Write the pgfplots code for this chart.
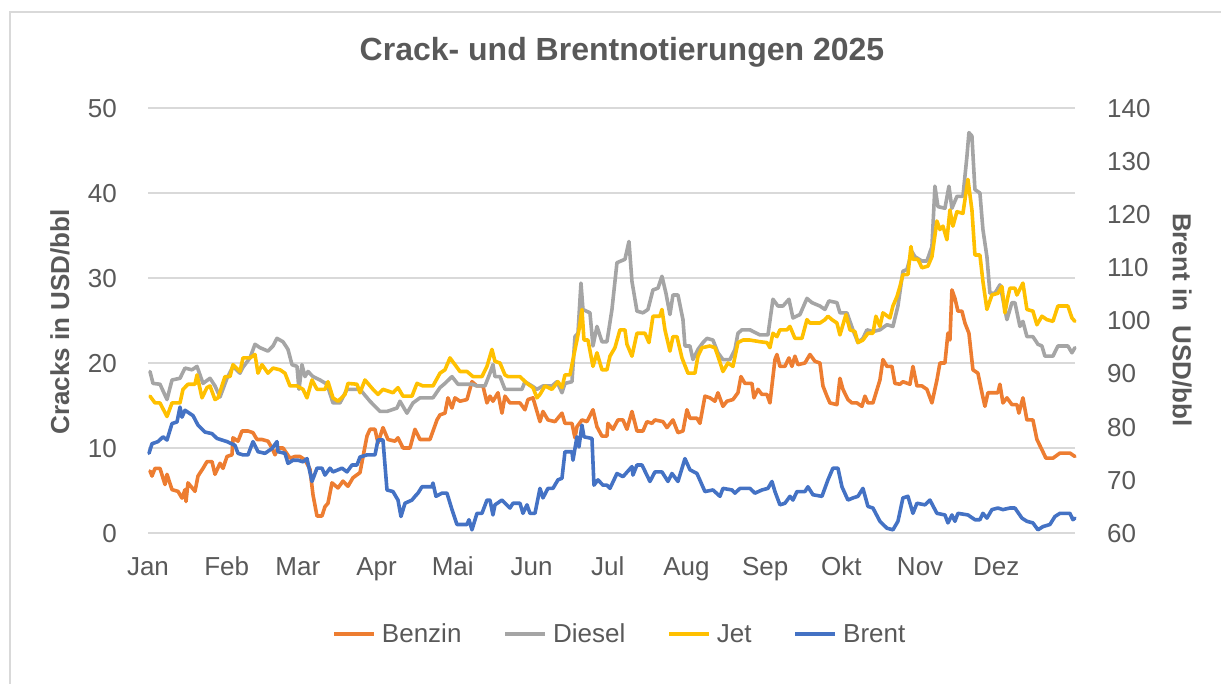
\documentclass[border=0pt]{standalone}
\usepackage{pgfplots}
\pgfplotsset{compat=1.18}
\usepackage{pgfplotstable}
\usepackage{fontspec}
\setmainfont{Liberation Sans}
\definecolor{cBenzin}{HTML}{ED7D31}
\definecolor{cDiesel}{HTML}{A5A5A5}
\definecolor{cJet}{HTML}{FFC000}
\definecolor{cBrent}{HTML}{4472C4}
\definecolor{cGrid}{HTML}{D9D9D9}
\definecolor{cText}{HTML}{595959}

% px = horizontal position (Jan 1 = 148, Dec 31 = 1075)
\pgfplotstableread{
px v
150 7.3
152 6.7
155 7.6
160 7.6
165 5.7
167 6.9
172 5.1
178 4.9
182 4.1
185 5.1
186 3.7
188 5.9
195 4.9
198 6.7
203 7.6
207 8.4
212 8.4
215 6.9
220 8.2
223 7.6
227 9.0
232 9.2
233 11.2
238 10.8
242 12.0
248 12.0
253 11.8
257 11.0
262 11.0
268 10.8
272 10.0
275 9.2
278 10.0
283 10.0
290 8.8
295 9.0
300 9.0
305 8.6
310 7.5
313 4.5
317 2.0
322 2.0
325 3.1
328 3.5
332 5.9
338 5.3
343 6.1
348 5.5
353 6.5
360 7.1
367 11.4
370 12.2
375 12.2
378 10.6
383 12.4
388 11.0
395 10.8
398 11.2
403 10.0
410 10.0
415 12.2
420 11.0
430 11.0
437 13.3
440 13.9
445 14.1
448 15.9
452 14.7
455 15.9
460 15.5
467 15.7
472 17.8
477 17.3
483 17.3
487 15.3
490 16.1
493 15.5
498 16.5
502 14.1
505 16.1
510 15.3
520 15.3
525 14.5
528 15.7
533 15.9
537 14.3
540 13.1
543 14.3
548 13.3
555 13.1
562 14.1
565 12.9
572 12.9
575 11.2
577 12.5
582 13.3
587 13.1
593 14.5
597 12.5
602 11.4
607 11.4
608 12.9
613 12.2
618 13.3
623 13.3
627 12.2
632 14.3
637 12.0
643 12.0
647 13.1
652 12.9
655 13.3
663 13.1
667 12.4
673 13.3
678 11.8
683 12.0
687 14.5
690 13.5
697 13.5
700 12.9
705 16.1
710 15.9
715 15.5
718 16.5
723 14.9
727 15.5
733 15.7
738 16.5
741 18.4
745 17.6
752 17.6
754 15.9
758 16.9
762 16.3
767 16.3
770 15.3
775 20.4
777 21.0
780 19.6
785 19.6
789 20.6
792 19.6
795 20.8
798 19.8
805 20.0
810 21.0
815 20.2
820 20.0
823 17.3
827 16.1
830 15.3
837 15.1
840 18.2
843 16.9
848 15.7
852 15.3
857 15.3
862 14.9
865 16.1
868 15.3
873 15.3
880 18.0
883 20.4
887 19.6
892 19.6
895 17.6
900 17.5
903 17.8
910 17.5
913 19.6
917 17.3
922 17.3
927 16.9
932 15.3
937 18.0
940 20.0
945 20.0
948 23.5
950 22.7
952 28.6
955 27.6
958 26.1
962 26.1
965 24.7
969 23.5
973 19.2
978 18.8
982 16.5
985 14.9
988 16.5
993 16.5
998 16.5
1000 17.5
1003 15.3
1007 15.9
1012 15.1
1017 15.1
1019 14.1
1023 15.9
1027 13.3
1033 13.3
1037 11.0
1042 9.8
1046 8.8
1053 8.8
1060 9.4
1070 9.4
1075 9.0
}\benzin

\pgfplotstableread{
px v
150 19.0
153 17.6
160 17.5
167 15.7
172 18.0
180 18.2
185 19.4
192 19.2
197 19.6
203 17.6
210 18.2
215 17.3
220 16.0
227 18.2
233 19.6
240 18.8
243 19.5
250 20.6
255 22.2
260 21.8
268 21.4
273 22.0
277 22.9
283 22.5
288 21.6
292 19.8
297 19.6
299 16.9
302 19.8
305 18.4
308 19.0
313 18.4
320 18.0
327 17.5
333 15.3
340 15.3
347 16.9
360 16.9
370 15.5
380 14.3
387 14.3
397 14.7
400 15.5
407 14.1
413 15.3
420 15.9
433 15.9
440 17.1
445 17.6
452 18.4
458 17.5
472 17.5
477 17.3
485 17.3
490 18.8
493 19.8
495 18.4
500 18.4
505 16.9
512 16.9
522 16.9
525 17.8
532 17.3
537 16.9
543 17.3
552 17.3
557 17.8
562 16.5
565 17.6
572 17.8
575 23.1
578 23.5
581 29.4
583 26.3
590 25.9
593 22.0
597 24.3
602 22.5
607 22.5
612 26.3
617 31.8
625 32.2
629 34.3
632 29.6
637 26.1
643 25.9
648 26.3
653 28.6
658 28.8
662 30.2
666 28.2
670 25.7
673 28.0
678 28.0
683 25.1
685 22.0
690 22.0
693 20.4
698 21.6
703 22.4
707 22.9
713 22.7
718 21.2
723 20.4
730 20.4
735 21.6
738 23.5
742 23.9
750 23.9
760 23.3
768 23.3
773 27.5
778 26.7
783 26.7
789 27.5
793 25.3
800 25.7
807 27.6
812 27.1
820 26.7
825 26.3
829 27.3
837 27.1
840 25.9
847 25.9
853 23.9
858 22.4
863 22.9
867 23.9
873 23.7
880 23.9
887 24.5
893 24.3
898 26.7
903 30.8
907 31.0
912 33.1
915 32.5
922 32.0
927 32.0
932 33.7
935 40.8
938 38.4
945 38.2
949 40.8
952 38.2
957 39.6
963 39.6
967 44.3
969 47.1
972 46.7
975 40.4
980 40.0
983 35.7
987 32.5
990 28.2
995 28.2
1000 29.2
1003 27.5
1007 25.1
1012 27.1
1015 27.1
1020 24.3
1023 24.9
1027 23.1
1033 23.1
1038 22.2
1042 22.0
1045 20.8
1053 20.8
1058 22.0
1068 22.0
1072 21.2
1075 21.8
}\diesel

\pgfplotstableread{
px v
150 16.1
155 15.3
160 15.3
167 13.7
172 15.3
180 15.3
183 16.9
188 17.5
195 17.5
197 18.6
202 15.9
207 17.1
210 17.3
215 15.7
218 15.9
225 18.4
230 18.4
233 19.8
240 19.0
243 20.6
250 20.6
255 21.0
258 18.8
262 19.8
268 18.8
273 19.4
280 19.2
285 18.8
290 17.3
297 17.3
303 16.9
307 15.9
312 18.0
317 16.9
325 16.9
328 17.8
333 15.9
338 15.5
345 16.3
348 17.6
357 17.5
360 16.5
365 18.0
373 16.9
378 16.3
383 16.9
393 16.5
398 17.1
403 16.1
412 16.1
417 17.6
423 17.3
433 17.3
440 18.8
445 19.2
450 20.6
455 19.8
460 19.0
467 19.0
473 18.4
482 18.4
487 19.6
492 21.6
495 20.2
500 20.0
505 18.6
508 18.4
520 18.4
527 17.6
533 17.1
537 15.9
540 16.3
545 17.3
552 16.9
558 17.8
562 17.1
565 18.6
570 18.6
573 20.4
577 22.7
579 23.9
582 26.3
584 22.7
588 22.7
593 19.6
597 21.2
602 19.2
607 19.2
610 20.8
615 21.8
620 23.9
625 23.9
627 22.2
632 20.8
637 23.5
645 23.5
649 22.4
653 25.5
660 25.5
662 26.3
665 23.9
670 21.4
673 23.1
677 23.1
682 20.6
688 18.8
695 18.8
698 20.8
702 21.8
710 22.0
715 21.8
718 20.8
723 19.0
728 20.0
733 19.6
738 22.4
743 22.7
750 22.7
760 22.5
767 22.4
770 21.8
773 23.5
777 23.1
780 23.9
787 23.9
790 24.3
795 22.9
802 22.9
807 25.1
810 24.7
820 24.7
825 25.1
828 25.5
832 25.1
837 24.7
840 23.3
846 25.7
850 23.9
855 23.7
858 22.4
863 22.7
868 23.5
873 23.5
876 25.5
880 24.3
883 25.9
890 25.3
893 26.7
897 27.8
900 29.0
903 30.4
908 30.4
911 33.7
913 32.2
918 32.2
922 31.2
928 31.4
932 32.5
937 36.7
940 35.7
943 36.1
947 34.5
950 38.0
953 36.1
957 37.8
963 37.6
968 41.6
972 38.0
975 32.7
980 32.7
983 29.6
987 26.3
992 28.0
998 28.2
1002 29.0
1005 25.9
1008 27.8
1010 28.8
1015 28.8
1017 28.0
1023 29.4
1027 26.3
1033 26.1
1037 24.5
1042 25.5
1047 25.1
1053 24.9
1058 26.7
1068 26.7
1072 25.3
1075 24.9
}\jet

\pgfplotstableread{
px v
149 75.0
152 76.8
158 77.2
163 78.1
167 77.5
172 80.6
177 80.9
180 83.7
182 81.8
185 83.1
193 82.1
198 80.3
205 79.0
212 78.7
217 77.8
227 77.2
235 76.5
238 75.0
243 74.7
248 74.7
253 77.2
258 75.3
265 75.0
272 75.9
277 77.2
278 75.3
285 75.0
288 73.1
293 73.7
298 73.7
303 73.4
307 74.0
312 69.7
317 72.2
322 72.2
325 70.9
330 72.2
333 71.5
342 72.2
347 71.5
352 72.8
357 72.8
360 74.3
367 74.7
375 74.7
378 77.5
383 77.5
387 68.1
393 67.8
398 66.2
401 63.1
405 65.6
412 66.2
415 66.9
418 67.5
422 68.7
432 68.7
433 69.4
436 66.9
442 67.5
447 67.5
452 64.4
457 61.6
467 61.6
469 62.5
472 60.6
477 63.7
482 63.7
487 66.2
490 66.2
493 63.4
495 65.3
502 66.2
510 64.7
513 65.6
520 65.6
523 63.7
527 65.3
530 63.7
535 63.7
540 68.4
543 66.6
548 68.4
553 68.4
558 70.0
562 70.3
565 75.3
572 75.3
573 73.7
577 78.1
579 76.2
582 80.3
584 78.1
592 77.8
594 69.0
598 70.0
603 69.0
607 69.0
610 68.4
617 71.2
623 70.6
632 72.5
633 70.9
637 72.8
642 72.8
650 69.7
655 71.5
662 71.5
668 69.7
672 71.2
678 69.7
685 74.0
690 71.9
697 71.2
705 67.8
713 68.1
720 66.9
723 68.4
732 68.1
735 67.5
740 68.4
750 68.4
755 67.5
762 68.1
768 68.4
772 69.7
775 67.8
780 65.3
785 65.6
790 66.9
793 66.2
797 67.8
805 67.8
808 68.7
813 67.2
822 66.9
828 70.0
833 72.2
838 72.2
842 68.7
848 66.2
853 66.6
858 66.9
863 68.4
868 65.0
873 64.7
880 62.2
887 60.9
893 60.6
898 62.2
903 66.6
908 66.9
913 63.7
917 65.6
925 65.3
930 66.2
937 63.7
945 63.4
948 61.9
952 63.4
955 62.2
958 63.7
968 63.4
975 62.5
980 62.5
983 63.7
987 62.8
992 64.4
998 64.7
1003 64.4
1010 64.7
1015 64.7
1022 62.8
1027 62.2
1033 61.9
1038 60.6
1043 61.2
1050 61.6
1055 63.1
1060 63.7
1070 63.7
1073 62.5
1075 62.8
}\brent

\pgfplotsset{
  chartbase/.style={
    at={(148bp,151bp)}, anchor=south west,
    scale only axis, width=927bp, height=425bp,
    xmin=0, xmax=365, clip=false,
    axis line style={draw=none}, major tick style={draw=none},
    ticklabel style={font=\fontsize{26bp}{30bp}\selectfont, text=cText},
    /pgf/number format/assume math mode=true,
  },
  serie/.style={line width=3.6bp, line join=round, line cap=round},
}

\begin{document}
\begin{tikzpicture}[x=1bp,y=1bp]
\useasboundingbox (0,0) rectangle (1221,684);
\draw[cGrid, line width=2bp] (10,-5) -- (10,672) -- (1230,672);
\node[font=\bfseries\fontsize{32bp}{38bp}\selectfont, text=cText, anchor=base] at (622,623) {Crack- und Brentnotierungen 2025};
\node[rotate=90, font=\bfseries\fontsize{26bp}{30bp}\selectfont, text=cText] at (60,362) {Cracks in USD/bbl};
\node[rotate=-90, font=\bfseries\fontsize{26bp}{30bp}\selectfont, text=cText] at (1182,364) {Brent in\ \ USD/bbl};

\begin{axis}[chartbase,
  ymin=0, ymax=50, ytick={0,10,...,50},
  ymajorgrids, grid style={cGrid, line width=1.5bp},
  xtick={0,31,59,90,120,151,181,212,243,273,304,334},
  xticklabels={Jan,Feb,Mar,Apr,Mai,Jun,Jul,Aug,Sep,Okt,Nov,Dez},
  yticklabel style={anchor=base east, inner sep=0pt, xshift=-31bp, yshift=-9.3bp},
  xticklabel style={anchor=base, inner sep=0pt, yshift=-43bp},
]
\addplot[serie, cBenzin] table[x expr={(\thisrow{px}-148)/2.54}, y=v] {\benzin};
\addplot[serie, cDiesel] table[x expr={(\thisrow{px}-148)/2.54}, y=v] {\diesel};
\addplot[serie, cJet] table[x expr={(\thisrow{px}-148)/2.54}, y=v] {\jet};
\end{axis}

\begin{axis}[chartbase,
  ymin=60, ymax=140, ytick={60,70,...,140},
  xtick=\empty, yticklabel pos=right,
  yticklabel style={anchor=base west, inner sep=0pt, xshift=32bp, yshift=-9.3bp},
  legend columns=4,
  legend style={at={(0.509,-0.238)}, anchor=center, draw=none, fill=none,
    font=\fontsize{26bp}{30bp}\selectfont, text=cText,
    /tikz/every odd column/.append style={column sep=4bp},
    /tikz/every even column/.append style={column sep=40bp}},
  legend image code/.code={\draw[#1, line cap=butt] (0bp,0bp) -- (40bp,0bp);},
]
\addlegendimage{serie, cBenzin}\addlegendentry{Benzin}
\addlegendimage{serie, cDiesel}\addlegendentry{Diesel}
\addlegendimage{serie, cJet}\addlegendentry{Jet}
\addplot[serie, cBrent] table[x expr={(\thisrow{px}-148)/2.54}, y=v] {\brent};
\addlegendentry{Brent}
\end{axis}
\end{tikzpicture}
\end{document}
